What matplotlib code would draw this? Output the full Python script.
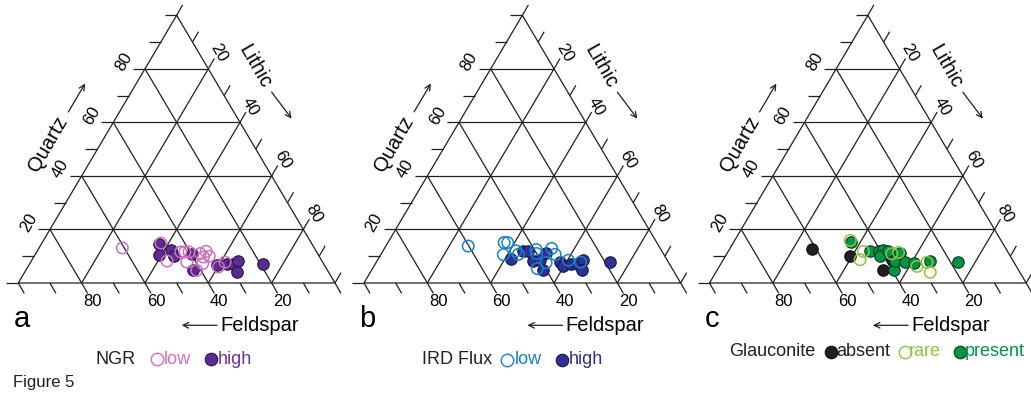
import matplotlib
matplotlib.use("Agg")
import matplotlib.pyplot as plt
import numpy as np

plt.rcParams['font.family'] = ['Liberation Sans', 'DejaVu Sans']

# ---------------- data (Quartz %, Lithic %; Feldspar = 100 - Q - L) ----------------
# Panel a: NGR
ngr_high_q = [14.7, 10.6, 12.2, 10.0, 11.0, 4.7, 6.6, 7.2, 7.2, 8.2, 4.1, 7.2]
ngr_high_l = [37.2, 39.1, 42.1, 44.3, 49.3, 52.9, 59.3, 62.2, 64.3, 65.4, 67.1, 73.8]
ngr_low_q = [13.1, 14.9, 8.2, 11.6, 11.6, 11.6, 7.8, 4.7, 11.0, 9.7, 11.8, 10.0, 7.2, 6.0, 7.8]
ngr_low_l = [26.3, 37.6, 42.9, 45.5, 46.8, 48.1, 49.3, 54.0, 51.9, 53.6, 53.4, 55.3, 54.6, 60.2, 61.4]

# Panel b: IRD flux
ird_high_q = [9.1, 12.0, 12.0, 8.2, 8.7, 4.7, 11.2, 7.8, 6.2, 7.0, 7.2, 8.7, 4.7, 7.8]
ird_high_l = [41.9, 44.3, 45.9, 49.4, 51.2, 54.1, 51.9, 58.0, 59.6, 61.8, 63.6, 64.7, 66.6, 73.8]
ird_low_q = [13.8, 15.1, 15.1, 10.6, 12.0, 10.7, 12.5, 11.0, 12.9, 10.7, 7.6, 5.4, 8.5, 7.8]
ird_low_l = [26.0, 36.7, 37.8, 38.7, 42.0, 43.4, 48.1, 49.0, 52.8, 55.0, 53.7, 52.0, 60.3, 64.5]

# Panel c: Glauconite
gl_absent_q = [12.8, 9.9, 5.0, 9.0]
gl_absent_l = [25.9, 39.3, 52.3, 53.1]
gl_present_q = [15.2, 11.8, 11.8, 12.4, 9.9, 5.0, 8.1, 11.2, 7.7, 7.5, 8.4, 7.8, 11.8]
gl_present_l = [37.1, 44.8, 47.5, 48.7, 49.0, 55.6, 54.6, 54.6, 58.0, 60.7, 65.5, 74.7, 50.6]
gl_rare_q = [15.9, 11.8, 8.7, 10.9, 11.4, 6.2, 7.7, 4.0]
gl_rare_l = [36.5, 42.7, 43.2, 52.1, 54.0, 62.4, 64.8, 67.7]

tick_values = [20, 40, 60, 80]
tick_labels = ['20', '40', '60', '80']
panel_letters = ['a', 'b', 'c']

# ---------------- layout ----------------
W, H = 1031, 396
fig = plt.figure(figsize=(W / 100, H / 100), dpi=100)
SX, SY = 3.167, 2.677          # pixels per percent
BASE_Y = 283.0
panel_x0 = [18.3, 364.0, 709.5]
LINE = '#231f20'
LW = 0.9


def tern(q, l):
    q = np.asarray(q, float)
    l = np.asarray(l, float)
    return l + q / 2.0, q


def make_axes(x0):
    ax = fig.add_axes([0, 0, 1, 1])
    ax.set_xlim(-x0 / SX, (W - x0) / SX)
    ax.set_ylim((BASE_Y - H) / SY, BASE_Y / SY)
    ax.axis('off')
    ax.patch.set_alpha(0)
    return ax


def draw_frame(ax, letter):
    kw = dict(color=LINE, lw=LW, solid_capstyle='butt', zorder=1)
    ax.plot([0, 100, 50, 0], [0, 0, 100, 0], **kw)
    for v in tick_values:
        ax.plot([v / 2, 100 - v / 2], [v, v], **kw)                  # const Quartz
        ax.plot([v, v + (100 - v) / 2], [0, 100 - v], **kw)           # const Lithic
        ax.plot([100 - v, (100 - v) / 2], [0, 100 - v], **kw)         # const Feldspar
    tl = 12.0
    for t in range(0, 101, 10):
        x, y = t / 2, t
        ax.plot([x, x - tl / SX], [y, y], **kw)
        x = 100 - t
        ax.plot([x, x + 0.5 * tl / SX], [0, -0.866 * tl / SY], **kw)
        x, y = t + (100 - t) / 2, 100 - t
        ax.plot([x, x + 0.5 * tl / SX], [y, y + 0.866 * tl / SY], **kw)
    fs = 12
    for v, lab in zip(tick_values, tick_labels):
        # Quartz (left)
        ax.text(v / 2 - 21.5 / SX, v + 6.8 / SY, lab, rotation=60, fontsize=fs,
                ha='center', va='center', rotation_mode='anchor')
        # Lithic (right)
        x, y = v + (100 - v) / 2, 100 - v
        ax.text(x + 10.5 / SX, y + 16.0 / SY, lab, rotation=-60, fontsize=fs,
                ha='center', va='center', rotation_mode='anchor')
        # Feldspar (bottom)
        ax.text(100 - v + 11.0 / SX, -19.0 / SY, lab, fontsize=fs,
                ha='center', va='center')
    ax.text(9.5, 52.1, 'Quartz', rotation=60, fontsize=14.5, ha='center', va='center',
            rotation_mode='anchor')
    ax.annotate('', xy=(21.1, 74.5), xytext=(15.8, 63.9),
                arrowprops=dict(arrowstyle='->', color=LINE, lw=0.9, shrinkA=0, shrinkB=0))
    ax.text(74.7, 80.7, 'Lithic', rotation=-60, fontsize=14.5, ha='center', va='center',
            rotation_mode='anchor')
    ax.annotate('', xy=(86.3, 61.4), xytext=(80.0, 71.3),
                arrowprops=dict(arrowstyle='->', color=LINE, lw=0.9, shrinkA=0, shrinkB=0))
    ax.text(63.7, -15.8, 'Feldspar', fontsize=14.5, ha='left', va='center')
    ax.annotate('', xy=(51.6, -15.8), xytext=(62.7, -15.8),
                arrowprops=dict(arrowstyle='->', color=LINE, lw=0.9, shrinkA=0, shrinkB=0))
    ax.text(-1.4, -16.3, letter, fontsize=21, ha='left', va='baseline')


axes = [make_axes(x0) for x0 in panel_x0]
for ax, letter in zip(axes, panel_letters):
    draw_frame(ax, letter)

S = 68
ax = axes[0]
x, y = tern(ngr_high_q, ngr_high_l)
ax.scatter(x, y, s=S, color='#5c2d91', edgecolors='#2a1245', linewidths=0.8, zorder=3)
x, y = tern(ngr_low_q, ngr_low_l)
ax.scatter(x, y, s=S, facecolors='none', edgecolors='#d070c0', linewidths=1.1, zorder=4)
ax = axes[1]
x, y = tern(ird_high_q, ird_high_l)
ax.scatter(x, y, s=S, color='#2e3192', edgecolors='#141650', linewidths=0.8, zorder=3)
x, y = tern(ird_low_q, ird_low_l)
ax.scatter(x, y, s=S, facecolors='none', edgecolors='#1b80cc', linewidths=1.1, zorder=4)
ax = axes[2]
x, y = tern(gl_absent_q, gl_absent_l)
ax.scatter(x, y, s=S, color='#231f20', edgecolors='#111111', linewidths=0.8, zorder=3)
x, y = tern(gl_present_q, gl_present_l)
ax.scatter(x, y, s=S, color='#009444', edgecolors='#0d3a1f', linewidths=0.8, zorder=4)
x, y = tern(gl_rare_q, gl_rare_l)
ax.scatter(x, y, s=S, facecolors='none', edgecolors='#8cc63f', linewidths=1.1, zorder=5)


def ftext(px, py, s, color='#231f20', fs=13, ha='left'):
    fig.text(px / W, 1 - py / H, s, color=color, fontsize=fs, ha=ha, va='center')


def fmark(px, py, face, edge, lw=1.0):
    fig.add_artist(plt.Line2D([px / W], [1 - py / H], marker='o', markersize=9,
                              markerfacecolor=face, markeredgecolor=edge,
                              markeredgewidth=lw, linestyle='none'))


ftext(95.6, 359, 'NGR')
fmark(157, 359, 'none', '#d070c0', 1.0)
ftext(164, 359, 'low', '#d070c0')
fmark(211, 359, '#5c2d91', '#2a1245', 0.8)
ftext(218, 359, 'high', '#7030a0')

ftext(422, 360, 'IRD Flux')
fmark(506.6, 360, 'none', '#1b80cc', 1.0)
ftext(515, 360, 'low', '#1b80cc')
fmark(562, 360, '#2e3192', '#141650', 0.8)
ftext(569, 360, 'high', '#2e3192')

ftext(729, 352, 'Glauconite')
fmark(831, 352, '#231f20', '#111111', 0.8)
ftext(836, 352, 'absent')
fmark(905, 352, 'none', '#8cc63f', 1.0)
ftext(909, 352, 'rare', '#8cc63f')
fmark(960, 352, '#009444', '#0d3a1f', 0.8)
ftext(965, 352, 'present', '#009444')

ftext(13, 383, 'Figure 5', fs=12)

fig.savefig('out.png', dpi=100)
